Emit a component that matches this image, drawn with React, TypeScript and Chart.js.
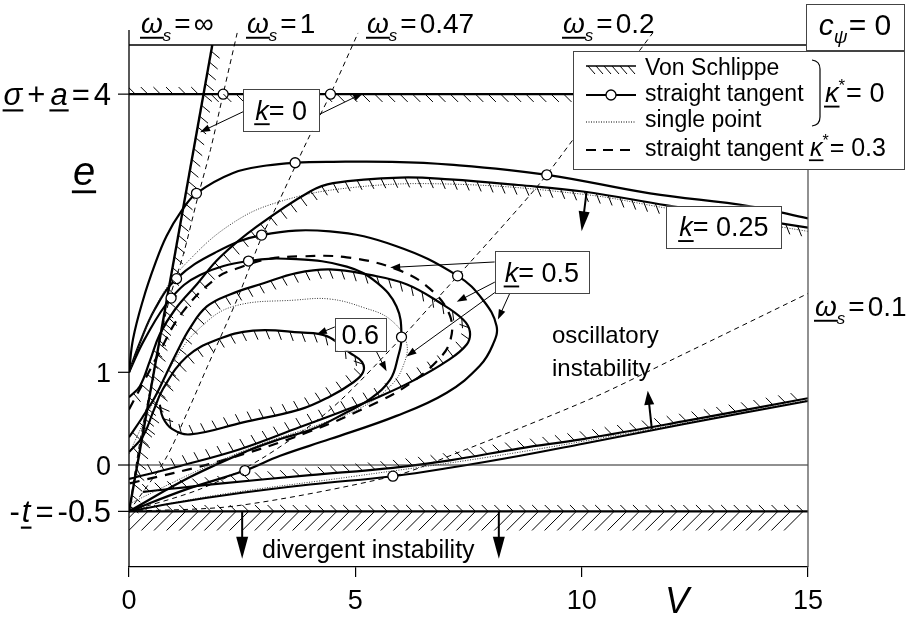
import React, { useEffect, useRef } from "react";
import { Chart, registerables } from "chart.js";

Chart.register(...registerables);

type Pt = [number, number];

// ---------------- axis ticks ----------------
const xTickValues = [0, 5, 10, 15];
const yTickValues = [-0.5, 0, 1, 4];

// ---------------- curves (V, e) ----------------
const zeroLine: Pt[] = [[0, 0], [15, 0]];
const divergenceBoundary: Pt[] = [[0, -0.5], [15, -0.5]];
const vonSchlippeK0: Pt[] = [[0, 4], [15, 4]];
const omegaInfinity: Pt[] = [[0, -0.5], [1.84, 4.53]];

const tangentK025: Pt[] = [
  [0, 1], [0.09, 1.36], [0.31, 1.78], [0.57, 2.16], [0.83, 2.47], [1.16, 2.74], [1.49, 2.93],
  [2.3, 3.15], [3.04, 3.23], [3.67, 3.26], [4.51, 3.27], [5.8, 3.27], [7.09, 3.24], [9.23, 3.13],
  [11.51, 2.93], [13.72, 2.79], [15, 2.66],
];
const vonSchlippeK025: Pt[] = [
  [0, 0.73], [0.24, 0.85], [0.46, 1.12], [0.68, 1.41], [1.02, 1.68], [1.5, 1.95], [2.01, 2.24],
  [2.82, 2.57], [4.0, 2.95], [4.51, 3.04], [5.99, 3.1], [7.09, 3.08], [8.6, 3.02], [10.03, 2.95],
  [11.88, 2.8], [15, 2.56],
];
const singlePointK025: Pt[] = [
  [0, 1], [0.35, 1.45], [0.75, 1.85], [1.27, 2.18], [2.23, 2.59], [3.26, 2.83], [4.88, 2.99],
  [7.09, 3.03], [10.03, 2.92], [11.88, 2.77], [15, 2.52],
];
const tangentK05: Pt[] = [
  [0, 1], [0.24, 1.32], [0.57, 1.68], [1.05, 2.01], [1.9, 2.29], [2.93, 2.48], [4.44, 2.52],
  [5.91, 2.36], [7.26, 2.04], [7.82, 1.78], [8.12, 1.5], [8.04, 1.3], [7.75, 1.07], [7.02, 0.78],
  [5.91, 0.53], [4.44, 0.28], [3.34, 0.1], [2.56, -0.06], [1.28, -0.26], [0, -0.5],
];
const tangentK06: Pt[] = [
  [0, 1], [0.35, 1.36], [0.93, 1.8], [1.57, 2.05], [2.64, 2.2], [3.7, 2.22], [4.81, 2.14],
  [5.47, 1.97], [5.91, 1.71], [6.02, 1.38], [5.94, 1.16], [5.77, 0.92], [5.32, 0.71], [4.81, 0.57],
  [4.07, 0.39], [3.34, 0.28], [2.61, 0.15], [1.35, -0.13], [0, -0.5],
];
const tangentKappa03: Pt[] = [
  [0, 0.6], [0.35, 0.92], [0.62, 1.17], [1.17, 1.64], [1.94, 2.02], [2.45, 2.13], [3.05, 2.22],
  [3.78, 2.25], [4.81, 2.24], [5.92, 2.11], [6.65, 1.9], [7.09, 1.61], [7.09, 1.33], [6.8, 1.12],
  [6.21, 0.88], [5.54, 0.69], [3.93, 0.35], [1.99, 0.04], [0, -0.2],
];
const vonSchlippeK05: Pt[] = [
  [0, 0.3], [0.29, 0.51], [0.57, 0.73], [0.82, 0.98], [1.06, 1.22], [1.35, 1.48], [1.72, 1.71],
  [2.23, 1.84], [2.97, 1.96], [3.7, 2.07], [4.44, 2.11], [5.32, 2.05], [6.13, 1.95], [6.87, 1.75],
  [7.38, 1.57], [7.53, 1.44], [7.46, 1.3], [7.02, 1.12], [6.28, 0.91], [5.54, 0.74], [4.66, 0.57],
  [3.78, 0.41], [2.45, 0.17], [1.13, -0.01], [0, -0.15],
];
const vonSchlippeK06: Pt[] = [
  [0, 0.14], [0.31, 0.31], [0.53, 0.57], [0.75, 0.82], [1.28, 1.17], [1.94, 1.35], [2.74, 1.45],
  [3.78, 1.43], [4.37, 1.39], [4.88, 1.21], [5.15, 1.11], [5.17, 1.0], [4.95, 0.89], [4.44, 0.74],
  [3.78, 0.6], [2.52, 0.46], [1.35, 0.33], [0.95, 0.39], [0.75, 0.51], [0.68, 0.65],
];
const singlePointK06: Pt[] = [
  [0, 0.12], [0.46, 0.6], [1.02, 1.14], [1.57, 1.48], [2.3, 1.71], [3.7, 1.78], [4.44, 1.79],
  [5.17, 1.7], [5.77, 1.57], [6.13, 1.32], [6.05, 1.06], [5.77, 0.85], [5.17, 0.63], [4.22, 0.44],
  [2.89, 0.22], [1.57, -0.05], [0, -0.42],
];
const vonSchlippeOsc: Pt[] = [
  [0.31, -0.29], [2.0, -0.2], [4.0, -0.11], [5.83, -0.03], [7.09, 0.05], [8.64, 0.18],
  [10.03, 0.28], [12.24, 0.47], [15, 0.72],
];
const tangentOsc: Pt[] = [
  [0, -0.5], [1.0, -0.41], [2.5, -0.3], [4.0, -0.21], [5.83, -0.12], [7.09, -0.03], [8.64, 0.1],
  [10.03, 0.23], [12.24, 0.44], [15, 0.69],
];
const singlePointOsc: Pt[] = [
  [0, -0.5], [2.0, -0.32], [5.0, -0.12], [8.0, 0.09], [11, 0.34], [15, 0.7],
];
const omegaS1: Pt[] = [
  [0, -0.5], [0.25, 0.28], [0.47, 0.82], [0.69, 1.36], [0.91, 1.82], [1.2, 2.27], [1.51, 2.87],
  [1.8, 3.4], [2.08, 4.0], [2.39, 4.66],
];
const omegaS047: Pt[] = [
  [0, -0.5], [0.8, 0.06], [1.29, 0.57], [1.73, 1.06], [2.39, 1.79], [2.94, 2.47], [3.27, 2.8],
  [3.94, 3.5], [4.45, 4.0], [5.06, 4.66],
];
const omegaS02: Pt[] = [
  [0, -0.5], [1.57, -0.26], [2.9, 0.06], [4.45, 0.6], [5.92, 1.32], [6.65, 1.71], [8.04, 2.46],
  [9.08, 3.04], [9.81, 3.51], [11.57, 4.66],
];
const omegaS01: Pt[] = [
  [0, -0.5], [2.38, -0.44], [5.84, -0.12], [7.09, 0.1], [10.18, 0.71], [12.1, 1.16], [15, 1.85],
  [15.26, 1.91],
];
const tangentMarkers: Pt[] = [
  [2.08, 4], [4.45, 4], [1.49, 2.93], [3.67, 3.26], [9.23, 3.13], [1.05, 2.01], [2.93, 2.48],
  [7.26, 2.04], [0.93, 1.8], [2.64, 2.2], [6.02, 1.38], [2.56, -0.06], [5.83, -0.12],
];

// ---------------- text ----------------
const omegaLabels = ["∞", "1", "0.47", "0.2", "0.1"];
const boxTexts = ["0", "0.25", "0.5", "0.6"];
const legendTexts = ["Von Schlippe", "straight tangent", "single point", "straight tangent "];

const FAM = 'Arial, "Liberation Sans", Helvetica, sans-serif';

type Run = { t: string; it?: boolean; ul?: boolean; sub?: boolean; sup?: boolean; gap?: number };

function drawRuns(ctx: CanvasRenderingContext2D, runs: Run[], x: number, y: number, size: number, align: string = "left") {
  const fontOf = (r: Run) => `${r.it ? "italic " : ""}${Math.round(size * (r.sub || r.sup ? 0.62 : 1))}px ${FAM}`;
  const widths = runs.map((r) => {
    ctx.font = fontOf(r);
    return ctx.measureText(r.t).width;
  });
  let total = 0;
  runs.forEach((r, i) => {
    total += widths[i] + (i < runs.length - 1 ? r.gap ?? 0 : 0);
  });
  let cx = align === "left" ? x : align === "right" ? x - total : x - total / 2;
  ctx.save();
  ctx.fillStyle = "#000";
  ctx.strokeStyle = "#000";
  ctx.textBaseline = "alphabetic";
  ctx.textAlign = "left";
  ctx.setLineDash([]);
  runs.forEach((r, i) => {
    ctx.font = fontOf(r);
    const dy = r.sub ? size * 0.28 : r.sup ? -size * 0.42 : 0;
    ctx.fillText(r.t, cx, y + dy);
    if (r.ul) {
      ctx.lineWidth = Math.max(1.3, size * 0.07);
      ctx.beginPath();
      ctx.moveTo(cx - 1, y + size * 0.17);
      ctx.lineTo(cx + widths[i] + 1, y + size * 0.17);
      ctx.stroke();
    }
    cx += widths[i] + (r.gap ?? 0);
  });
  ctx.restore();
  return total;
}

function samplePath(meta: any) {
  const els = meta.data as any[];
  const out: { x: number; y: number }[] = [];
  for (let i = 0; i < els.length - 1; i++) {
    const a = els[i];
    const b = els[i + 1];
    const c1x = a.cp2x ?? a.x, c1y = a.cp2y ?? a.y, c2x = b.cp1x ?? b.x, c2y = b.cp1y ?? b.y;
    const N = 20;
    for (let k = 0; k < N; k++) {
      const t = k / N, u = 1 - t;
      out.push({
        x: u * u * u * a.x + 3 * u * u * t * c1x + 3 * u * t * t * c2x + t * t * t * b.x,
        y: u * u * u * a.y + 3 * u * u * t * c1y + 3 * u * t * t * c2y + t * t * t * b.y,
      });
    }
  }
  const last = els[els.length - 1];
  out.push({ x: last.x, y: last.y });
  return out;
}

function drawHatch(ctx: CanvasRenderingContext2D, path: { x: number; y: number }[], spec: any, xMin: number, xMax: number) {
  const th = (spec.theta * Math.PI) / 180;
  const Dx = Math.cos(th), Dy = Math.sin(th);
  let d = spec.gap / 2;
  ctx.beginPath();
  for (let i = 0; i < path.length - 1; i++) {
    const a = path[i], b = path[i + 1];
    const dx = b.x - a.x, dy = b.y - a.y;
    const L = Math.hypot(dx, dy);
    if (L < 1e-6) continue;
    const tx = dx / L, ty = dy / L;
    const nx = -ty * spec.side, ny = tx * spec.side;
    while (d <= L) {
      const px = a.x + tx * d, py = a.y + ty * d;
      if (px >= xMin && px <= xMax) {
        let vx = Dx, vy = Dy;
        if (vx * nx + vy * ny < 0) { vx = -vx; vy = -vy; }
        if (spec.mix) {
          vx = vx + nx * spec.mix; vy = vy + ny * spec.mix;
          const m = Math.hypot(vx, vy); vx /= m; vy /= m;
        }
        ctx.moveTo(px, py);
        ctx.lineTo(px + vx * spec.len, py + vy * spec.len);
      }
      d += spec.gap;
    }
    d -= L;
  }
  ctx.stroke();
}

function drawArrow(ctx: CanvasRenderingContext2D, x1: number, y1: number, x2: number, y2: number, head = 10, half = 3.5, lw = 1) {
  const ang = Math.atan2(y2 - y1, x2 - x1);
  const c = Math.cos(ang), s = Math.sin(ang);
  ctx.save();
  ctx.setLineDash([]);
  ctx.strokeStyle = "#000";
  ctx.fillStyle = "#000";
  ctx.lineWidth = lw;
  ctx.beginPath();
  ctx.moveTo(x1, y1);
  ctx.lineTo(x2 - c * head * 0.7, y2 - s * head * 0.7);
  ctx.stroke();
  ctx.beginPath();
  ctx.moveTo(x2, y2);
  ctx.lineTo(x2 - head * c + half * s, y2 - head * s - half * c);
  ctx.lineTo(x2 - head * c - half * s, y2 - head * s + half * c);
  ctx.closePath();
  ctx.fill();
  ctx.restore();
}

const decorPlugin = {
  id: "decor",
  afterDatasetsDraw(chart: any) {
    const ctx = chart.ctx as CanvasRenderingContext2D;
    const xs = chart.scales.x;
    const area = chart.chartArea;
    ctx.save();
    ctx.beginPath();
    ctx.rect(area.left, area.top, area.right - area.left, area.bottom - area.top);
    ctx.clip();
    ctx.strokeStyle = "#000";
    ctx.setLineDash([]);
    chart.data.datasets.forEach((ds: any, i: number) => {
      if (!ds.hatch) return;
      const path = samplePath(chart.getDatasetMeta(i));
      ds.hatch.forEach((h: any) => {
        ctx.lineWidth = h.width ?? 1;
        const xMin = h.from !== undefined ? xs.getPixelForValue(h.from) : -1e9;
        const xMax = h.to !== undefined ? xs.getPixelForValue(h.to) : 1e9;
        drawHatch(ctx, path, h, xMin, xMax);
      });
    });
    ctx.restore();
  },
  afterDraw(chart: any) {
    const ctx = chart.ctx as CanvasRenderingContext2D;
    const xs = chart.scales.x, ys = chart.scales.y;
    const a = chart.chartArea;
    const px = (v: number) => xs.getPixelForValue(v);
    const py = (v: number) => ys.getPixelForValue(v);
    ctx.save();
    ctx.setLineDash([]);
    ctx.strokeStyle = "#000";
    // frame
    ctx.lineWidth = 1.3;
    ctx.beginPath();
    ctx.moveTo(a.left, a.top - 15);
    ctx.lineTo(a.left, a.bottom);
    ctx.moveTo(a.left, a.top);
    ctx.lineTo(a.right, a.top);
    ctx.stroke();
    ctx.strokeStyle = "#555";
    ctx.beginPath();
    ctx.moveTo(a.right, a.top);
    ctx.lineTo(a.right, a.bottom);
    ctx.stroke();
    // y tick marks
    ctx.strokeStyle = "#000";
    ctx.lineWidth = 1.2;
    yTickValues.forEach((v) => {
      ctx.beginPath();
      ctx.moveTo(a.left - 11, py(v));
      ctx.lineTo(a.left, py(v));
      ctx.stroke();
    });
    // y tick labels
    drawRuns(ctx, [{ t: "σ", it: true, ul: true, gap: 5 }, { t: "+", gap: 5 }, { t: "a", it: true, ul: true, gap: 4 }, { t: "=", gap: 4 }, { t: String(yTickValues[3]) }], 111, py(4) + 11, 31, "right");
    drawRuns(ctx, [{ t: String(yTickValues[2]) }], 111, py(1) + 9.5, 27, "right");
    drawRuns(ctx, [{ t: String(yTickValues[1]) }], 111, py(0) + 9.5, 27, "right");
    drawRuns(ctx, [{ t: "-", gap: 2 }, { t: "t", it: true, ul: true, gap: 5 }, { t: "=", gap: 4 }, { t: String(yTickValues[0]) }], 111, py(-0.5) + 11, 31, "right");
    // axis titles
    drawRuns(ctx, [{ t: "e", it: true, ul: true }], 84, 185, 40, "center");
    drawRuns(ctx, [{ t: "V", it: true }], 677, 613, 36, "center");

    // omega labels on top
    const om = (txt: string, x: number, y: number) =>
      drawRuns(ctx, [{ t: "ω", it: true, ul: true }, { t: "s", it: true, sub: true, gap: 3 }, { t: "=", gap: 3 }, { t: txt }], x, y, 28, "left");
    om(omegaLabels[0], 141, 33);
    om(omegaLabels[1], 247, 33);
    om(omegaLabels[2], 367, 33);
    om(omegaLabels[3], 563, 33);
    om(omegaLabels[4], 815, 316);

    // region texts
    ctx.fillStyle = "#000";
    ctx.font = `24px ${FAM}`;
    ctx.textAlign = "left";
    ctx.textBaseline = "alphabetic";
    ctx.fillText("oscillatory", 552, 343);
    ctx.fillText("instability", 552, 376);
    ctx.font = `25px ${FAM}`;
    ctx.fillText("divergent instability", 262, 558);

    // arrows
    drawArrow(ctx, px(11.55), py(0.39), px(11.46), py(0.8), 14, 5, 2);
    drawArrow(ctx, px(2.5), py(-0.5), px(2.5), py(-1.01), 22, 6, 2);
    drawArrow(ctx, px(8.17), py(-0.5), px(8.17), py(-1.01), 22, 6, 2);
    drawArrow(ctx, px(10.11), py(2.95), px(10.0), py(2.52), 20, 5.5, 2);

    // label boxes
    const box = (v: number, e: number, w: number, h: number, runs: Run[], size: number) => {
      const cx = px(v), cy = py(e);
      ctx.save();
      ctx.fillStyle = "#fff";
      ctx.fillRect(cx - w / 2, cy - h / 2, w, h);
      ctx.strokeStyle = "#444";
      ctx.lineWidth = 1;
      ctx.setLineDash([]);
      ctx.strokeRect(Math.round(cx - w / 2) + 0.5, Math.round(cy - h / 2) + 0.5, w, h);
      ctx.restore();
      drawRuns(ctx, runs, cx, cy + size * 0.36, size, "center");
    };
    // arrows from boxes first (boxes sit on top of their starts)
    drawArrow(ctx, px(2.52), py(3.81), px(1.57), py(3.59), 10, 3.5, 1);
    drawArrow(ctx, px(4.2), py(3.78), px(5.17), py(4.01), 10, 3.5, 1);
    drawArrow(ctx, px(8.08), py(2.19), px(5.77), py(2.13), 10, 3.5, 1);
    drawArrow(ctx, px(8.11), py(1.98), px(7.24), py(1.76), 10, 3.5, 1);
    drawArrow(ctx, px(8.11), py(1.87), px(6.13), py(1.17), 10, 3.5, 1);
    drawArrow(ctx, px(8.42), py(1.86), px(8.15), py(1.57), 10, 3.5, 1);
    drawArrow(ctx, px(4.55), py(1.49), px(4.15), py(1.41), 10, 3.5, 1);
    drawArrow(ctx, px(5.47), py(1.22), px(5.69), py(1.01), 10, 3.5, 1);
    box(3.36, 3.83, 76, 42, [{ t: "k", it: true, ul: true }, { t: "= " + boxTexts[0] }], 27);
    box(13.14, 2.57, 115, 42, [{ t: "k", it: true, ul: true }, { t: "= " + boxTexts[1] }], 27);
    box(9.12, 2.08, 94, 42, [{ t: "k", it: true, ul: true }, { t: "= " + boxTexts[2] }], 27);
    box(5.11, 1.41, 51, 33, [{ t: boxTexts[3] }], 27);

    // c_psi box
    ctx.fillStyle = "#fff";
    ctx.fillRect(806, 4, 99, 46);
    ctx.strokeStyle = "#444";
    ctx.lineWidth = 1;
    ctx.strokeRect(806.5, 4.5, 98, 46);
    drawRuns(ctx, [{ t: "c", it: true }, { t: "ψ", it: true, sub: true, gap: 1 }, { t: "= 0" }], 855, 35, 30, "center");

    // legend box
    ctx.fillStyle = "#fff";
    ctx.fillRect(573, 51, 332, 119);
    ctx.strokeStyle = "#444";
    ctx.strokeRect(573.5, 51.5, 331, 118);
    ctx.strokeStyle = "#000";
    // row 1: Von Schlippe
    ctx.lineWidth = 1.4;
    ctx.beginPath();
    ctx.moveTo(586, 66);
    ctx.lineTo(636, 66);
    ctx.stroke();
    ctx.lineWidth = 1;
    ctx.beginPath();
    for (let x = 588; x <= 630; x += 8) {
      ctx.moveTo(x, 66);
      ctx.lineTo(x + 7, 74);
    }
    ctx.stroke();
    // row 2: straight tangent
    ctx.lineWidth = 2;
    ctx.beginPath();
    ctx.moveTo(586, 95);
    ctx.lineTo(636, 95);
    ctx.stroke();
    ctx.fillStyle = "#fff";
    ctx.lineWidth = 1.3;
    ctx.beginPath();
    ctx.arc(611, 95, 5, 0, Math.PI * 2);
    ctx.fill();
    ctx.stroke();
    // row 3: single point
    ctx.lineWidth = 1;
    ctx.setLineDash([1, 1.5]);
    ctx.beginPath();
    ctx.moveTo(586, 122);
    ctx.lineTo(636, 122);
    ctx.stroke();
    // row 4: dashed
    ctx.lineWidth = 2;
    ctx.setLineDash([10, 7]);
    ctx.beginPath();
    ctx.moveTo(586, 150);
    ctx.lineTo(636, 150);
    ctx.stroke();
    ctx.setLineDash([]);
    ctx.fillStyle = "#000";
    ctx.font = `23px ${FAM}`;
    ctx.textAlign = "left";
    ctx.fillText(legendTexts[0], 645, 75);
    ctx.fillText(legendTexts[1], 645, 101);
    ctx.fillText(legendTexts[2], 645, 127);
    const w4 = ctx.measureText(legendTexts[3]).width;
    ctx.fillText(legendTexts[3], 645, 156);
    drawRuns(ctx, [{ t: "κ", it: true, ul: true }, { t: "*", sup: true, gap: 1 }, { t: "= 0.3" }], 645 + w4, 156, 25, "left");
    // bracket
    ctx.strokeStyle = "#000";
    ctx.lineWidth = 1.2;
    ctx.beginPath();
    ctx.moveTo(812, 60);
    ctx.quadraticCurveTo(820, 61, 820, 69);
    ctx.lineTo(820, 117);
    ctx.quadraticCurveTo(820, 125, 812, 126);
    ctx.stroke();
    drawRuns(ctx, [{ t: "κ", it: true, ul: true }, { t: "*", sup: true, gap: 1 }, { t: "= 0" }], 825, 102, 27, "left");
    ctx.restore();
  },
};

export default function App() {
  const ref = useRef<HTMLCanvasElement | null>(null);
  useEffect(() => {
    document.body.style.margin = "0";
    const canvas = ref.current;
    if (!canvas) return;
    const line = (pts: Pt[], o: any = {}) => ({
      data: pts.map(([x, y]) => ({ x, y })),
      showLine: true,
      pointRadius: 0,
      pointHoverRadius: 0,
      borderColor: "#000",
      backgroundColor: "#000",
      borderWidth: 2.2,
      tension: 0,
      fill: false,
      ...o,
    });
    const overflow = { left: 0, top: 14, right: 14, bottom: 0 };
    const datasets: any[] = [
      {
        label: "markers",
        data: tangentMarkers.map(([x, y]) => ({ x, y })),
        showLine: false,
        pointRadius: 5,
        pointHoverRadius: 5,
        pointBackgroundColor: "#fff",
        pointBorderColor: "#000",
        pointBorderWidth: 1.3,
        order: -1,
      },
      line(zeroLine, { borderWidth: 1.2, borderColor: "#222" }),
      line(divergenceBoundary, {
        borderWidth: 2.4,
        hatch: [
          { side: -1, theta: 45, len: 9, gap: 12.6 },
          { side: 1, theta: 135, len: 27, gap: 12.6 },
        ],
      }),
      line(vonSchlippeK0, {
        borderWidth: 2.4,
        hatch: [
          { side: 1, theta: 45, len: 11, gap: 12.6, from: 1.62, to: 15 },
          { side: -1, theta: 45, len: 10, gap: 12.6, from: 0, to: 1.55 },
        ],
      }),
      line(omegaInfinity, { borderWidth: 2.4, hatch: [{ side: 1, theta: 40, len: 11, gap: 11 }] }),
      line(tangentK025, { tension: 0.4 }),
      line(vonSchlippeK025, { tension: 0.4, hatch: [{ side: 1, theta: 50, len: 11, gap: 12, mix: 0.6 }] }),
      line(singlePointK025, { tension: 0.4, borderWidth: 1, borderDash: [1, 1.5], borderColor: "#333" }),
      line(tangentK05, { tension: 0.4 }),
      line(vonSchlippeK05, { tension: 0.4, hatch: [{ side: 1, theta: 50, len: 10, gap: 12, mix: 0.8 }] }),
      line(tangentK06, { tension: 0.4 }),
      line(vonSchlippeK06, { tension: 0.4, hatch: [{ side: 1, theta: 50, len: 10, gap: 12, mix: 0.8 }] }),
      line(singlePointK06, { tension: 0.4, borderWidth: 1, borderDash: [1, 1.5], borderColor: "#333" }),
      line(tangentKappa03, { tension: 0.4, borderWidth: 2.2, borderDash: [10, 8] }),
      line(vonSchlippeOsc, { tension: 0.4, hatch: [{ side: -1, theta: 45, len: 10, gap: 12.6 }] }),
      line(tangentOsc, { tension: 0.4, borderWidth: 2 }),
      line(singlePointOsc, { tension: 0.4, borderWidth: 1, borderDash: [1, 1.5], borderColor: "#333" }),
      line(omegaS1, { tension: 0.3, borderWidth: 1, borderDash: [5, 4], clip: overflow }),
      line(omegaS047, { tension: 0.3, borderWidth: 1, borderDash: [5, 4], clip: overflow }),
      line(omegaS02, { tension: 0.3, borderWidth: 1, borderDash: [5, 4], clip: overflow }),
      line(omegaS01, { tension: 0.3, borderWidth: 1, borderDash: [5, 4], clip: overflow }),
    ];
    const chart = new Chart(canvas, {
      type: "scatter",
      data: { datasets },
      options: {
        animation: false,
        responsive: false,
        devicePixelRatio: 1,
        events: [],
        layout: { padding: { left: 129, right: 101, top: 45, bottom: 1 } },
        plugins: { legend: { display: false }, tooltip: { enabled: false } },
        scales: {
          x: {
            type: "linear",
            min: 0,
            max: 15,
            afterBuildTicks: (s: any) => {
              s.ticks = xTickValues.map((v) => ({ value: v }));
            },
            afterFit: (s: any) => {
              s.height = 51;
            },
            ticks: { font: { family: FAM, size: 27 }, color: "#000", padding: 8, maxRotation: 0 },
            grid: { drawOnChartArea: false, drawTicks: true, tickLength: 10, color: "#000", lineWidth: 1.2 },
            border: { display: true, color: "#000", width: 1.3 },
          },
          y: { type: "linear", min: -1.1, max: 4.53, display: false },
        },
      } as any,
      plugins: [decorPlugin],
    });
    return () => chart.destroy();
  }, []);
  return <canvas ref={ref} width={909} height={619} style={{ display: "block" }} />;
}
